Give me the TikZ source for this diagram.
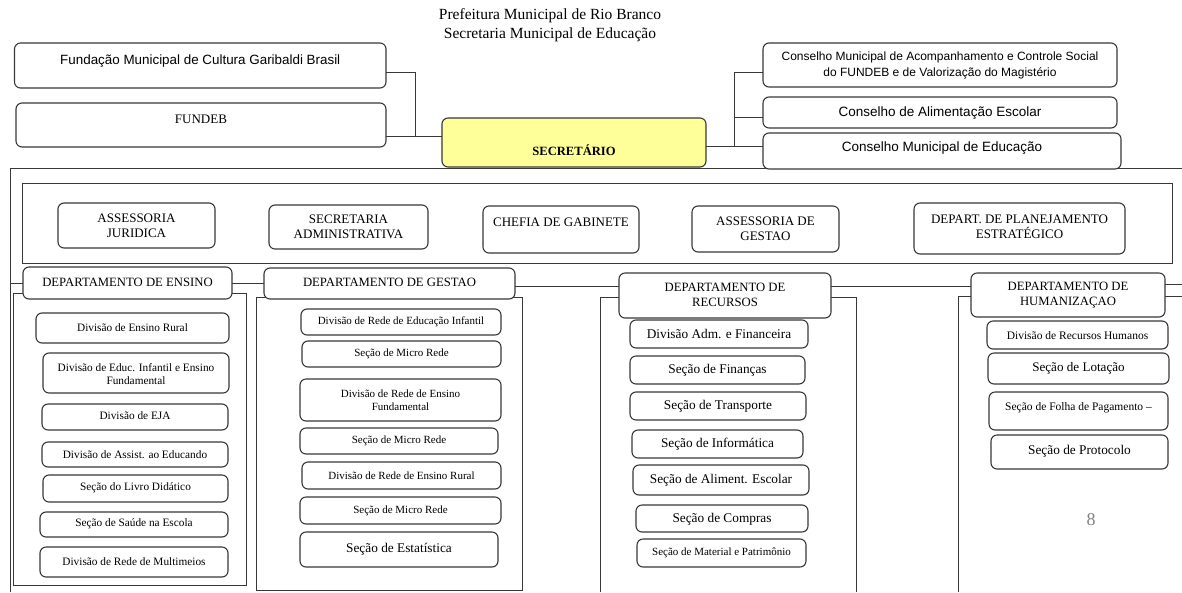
\documentclass[tikz,border=0pt]{standalone}
\usepackage{fontspec}
\setmainfont{Liberation Serif}
\newfontfamily\sn{Liberation Sans}
\newcommand\fs[2]{\fontsize{#1}{#2}\selectfont}
\definecolor{ln}{HTML}{383838}
\definecolor{yel}{HTML}{FFFF99}
\tikzset{
  wire/.style={draw=ln, line width=1pt},
  box/.style={draw=ln, line width=1.1pt, rounded corners=6pt, fill=white, inner sep=0pt, outer sep=0pt},
  txt/.style={inner sep=0pt, align=center, text=black},
}
% name, x1, y1, x2, y2, text y, font, text
\newcommand\bx[8]{%
  \node[box, minimum width={(#4-#2)*1pt}, minimum height={(#5-#3)*1pt}] (#1) at ({(#2+#4)/2},{(#3+#5)/2}) {};
  \node[txt, font={#7}] (#1-t) at ({(#2+#4)/2},#6) {#8};}
\begin{document}
\begin{tikzpicture}[x=1pt, y=-1pt]
\fill[white] (0,0) rectangle (1182,592);
\useasboundingbox (0,0) rectangle (1182,592);

% title
\node[txt, font=\fs{15.5}{19}] (title) at (550,25.5) {Prefeitura Municipal de Rio Branco\\Secretaria Municipal de Educação};

% outer frame and staff band
\draw[wire] (1182,168) -- (10,168) -- (10,592);
\draw[wire] (22,183) rectangle (1172,263);

% department containers
\draw[wire] (13,293) rectangle (246,585);
\draw[wire] (256,297) rectangle (522,590);
\draw[wire] (600,592) |- (856,297) -- (856,592);
\draw[wire] (958,592) |- (1182,296);

% top boxes
\bx{fund}{14.5}{43}{386}{88}{61}{\sn\fs{13.4}{16}}{Fundação Municipal de Cultura Garibaldi Brasil}
\bx{fundeb}{16}{103}{386}{147}{119}{\fs{13}{15}}{FUNDEB}
\node[box, fill=yel, minimum width=264pt, minimum height=49pt] (sec) at (574,142.5) {};
\node[txt, font=\bfseries\fs{12.6}{15}] (sec-t) at (574,150) {SECRETÁRIO};
\bx{c1}{763}{43}{1117}{87}{65}{\sn\fs{12}{16}}{Conselho Municipal de Acompanhamento e Controle Social\\do FUNDEB e de Valorização do Magistério}
\bx{c2}{763}{97}{1117}{128}{113}{\sn\fs{13.5}{16}}{Conselho de Alimentação Escolar}
\bx{c3}{763}{133}{1121}{169}{148}{\sn\fs{13.5}{16}}{Conselho Municipal de Educação}

% top connectors
\coordinate (jl) at (415,136);
\draw[wire] ([yshift=-6.5pt]fund.east) -| (jl) -- (sec.west |- jl);
\draw[wire] (fundeb.east |- jl) -- (jl);
\coordinate (jr) at (734,146);
\coordinate (c1in) at ([yshift=-7.5pt]c1.west);
\coordinate (c2in) at ([yshift=-4.5pt]c2.west);
\draw[wire] (sec.east |- jr) -- (jr);
\draw[wire] (c1in) -| (jr) -- (c3.west |- jr);
\draw[wire] (c2in) -- (c2in -| jr);

% staff boxes
\bx{ajur}{58}{203}{215}{248}{226}{\fs{13}{14.5}}{ASSESSORIA\\JURIDICA}
\bx{sadm}{269}{205}{428}{249}{227}{\fs{13}{14.5}}{SECRETARIA\\ADMINISTRATIVA}
\bx{chef}{483}{206}{639}{253}{222}{\fs{13}{14.5}}{CHEFIA DE GABINETE}
\bx{agest}{692}{206}{839}{252}{229}{\fs{13}{14.5}}{ASSESSORIA DE\\GESTAO}
\bx{dplan}{914}{203}{1125}{254}{227}{\fs{13}{14.5}}{DEPART. DE PLANEJAMENTO\\ESTRATÉGICO}

% department connectors
\coordinate (fl) at (10,283);
\coordinate (hr) at (1182,284);
\coordinate (gr) at (530,286.5);

% departments
\bx{dens}{23}{267}{232}{299}{282}{\fs{12.7}{15}}{DEPARTAMENTO DE ENSINO}
\bx{dges}{264}{268}{515}{299}{282}{\fs{12.7}{15}}{DEPARTAMENTO DE GESTAO}
\bx{drec}{619}{273}{831}{318}{295}{\fs{12.7}{15}}{DEPARTAMENTO DE\\RECURSOS}
\bx{dhum}{971}{273}{1165}{317}{295}{\fs{12.7}{15}}{DEPARTAMENTO DE\\HUMANIZAÇAO}

\draw[wire] (fl) -- (dens.west |- fl);
\draw[wire] (dens.east) -- (dges.west |- dens.east);
\draw[wire] (dges.east |- gr) -- (drec.west |- gr);
\draw[wire] (drec.east |- gr) -- (dhum.west |- gr);
\draw[wire] (dhum.east |- hr) -- (hr);

% ensino
\bx{e1}{36}{313}{229}{343}{328}{\fs{11.3}{13}}{Divisão de Ensino Rural}
\bx{e2}{43}{353}{229}{393}{374}{\fs{11.3}{13}}{Divisão de Educ. Infantil e Ensino\\Fundamental}
\bx{e3}{42}{404}{228}{430}{416}{\fs{11.3}{13}}{Divisão de EJA}
\bx{e4}{42}{442}{228}{467}{455}{\fs{11.3}{13}}{Divisão de Assist. ao Educando}
\bx{e5}{43}{475}{228}{502}{488}{\fs{11.3}{13}}{Seção do Livro Didático}
\bx{e6}{40}{512}{228}{537}{524}{\fs{11.3}{13}}{Seção de Saúde na Escola}
\bx{e7}{40}{547}{228}{577}{562}{\fs{11.3}{13}}{Divisão de Rede de Multimeios}

% gestao
\bx{g1}{301}{309}{501}{335}{322}{\fs{11}{13}}{Divisão de Rede de Educação Infantil}
\bx{g2}{302}{341}{501}{367}{354}{\fs{11}{13}}{Seção de Micro Rede}
\bx{g3}{300}{379}{501}{421}{400}{\fs{11}{13}}{Divisão de Rede de Ensino\\Fundamental}
\bx{g4}{300}{428}{498}{454}{441}{\fs{11}{13}}{Seção de Micro Rede}
\bx{g5}{302}{462}{501}{489}{476}{\fs{11}{13}}{Divisão de Rede de Ensino Rural}
\bx{g6}{300}{497}{501}{524}{511}{\fs{11}{13}}{Seção de Micro Rede}
\bx{g7}{300}{532}{498}{567}{549}{\fs{13.3}{15}}{Seção de Estatística}

% recursos
\bx{r1}{630}{320}{808}{348}{334}{\fs{13.3}{15}}{Divisão Adm. e Financeira}
\bx{r2}{630}{356}{805}{384}{370}{\fs{13.3}{15}}{Seção de Finanças}
\bx{r3}{630}{392}{806}{420}{406}{\fs{13.3}{15}}{Seção de Transporte}
\bx{r4}{632}{430}{803}{458}{444}{\fs{13.3}{15}}{Seção de Informática}
\bx{r5}{633}{465}{809}{495}{480}{\fs{13.3}{15}}{Seção de Aliment. Escolar}
\bx{r6}{636}{505}{808}{532}{519}{\fs{13.3}{15}}{Seção de Compras}
\bx{r7}{637}{539}{806}{567}{553}{\fs{11}{13}}{Seção de Material e Patrimônio}

% humanizacao
\bx{h1}{987}{321}{1168}{349}{336}{\fs{11.5}{13}}{Divisão de Recursos Humanos}
\bx{h2}{988}{353}{1169}{384}{368}{\fs{13.1}{15}}{Seção de Lotação}
\bx{h3}{989}{392}{1168}{430}{408}{\fs{11.5}{13}}{Seção de Folha de Pagamento –}
\bx{h4}{991}{435}{1168}{469}{451}{\fs{13.3}{15}}{Seção de Protocolo}

\node[txt, font=\fs{18}{20}, text=gray] (pg) at (1091,520) {8};
\end{tikzpicture}
\end{document}
